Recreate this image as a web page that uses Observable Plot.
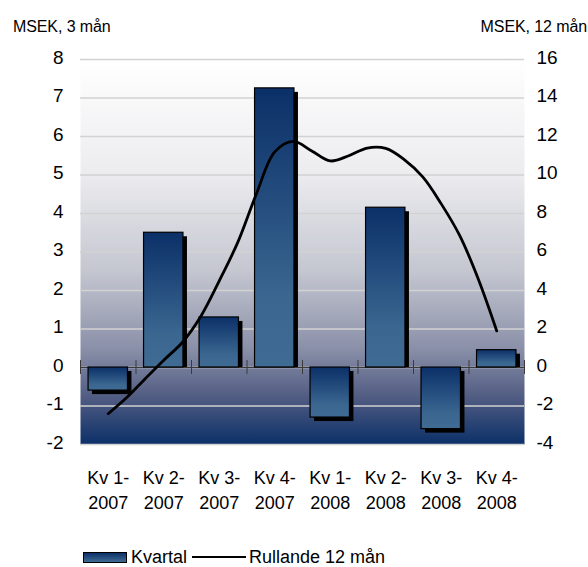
<!DOCTYPE html>
<html>
<head>
<meta charset="utf-8">
<script src="https://cdn.jsdelivr.net/npm/d3@7"></script>
<script src="https://cdn.jsdelivr.net/npm/@observablehq/plot@0.6"></script>
<style>
  html, body { margin: 0; padding: 0; background: #fff; }
  #wrap { position: relative; width: 588px; height: 567px; overflow: hidden; font-family: "Liberation Sans", Arial, sans-serif; color: #000; }
  #chart { position: absolute; left: 0; top: 0; }
  .title { position: absolute; top: 19px; font-size: 16px; line-height: 16px; letter-spacing: -0.1px; white-space: nowrap; }
  #legend { position: absolute; left: 0; top: 547px; width: 588px; height: 20px; font-size: 18px; line-height: 18px; white-space: nowrap; }
  #legend span { position: absolute; }
</style>
</head>
<body>
<div id="wrap">
  <div id="chart"></div>
  <div class="title" style="left:13px">MSEK, 3 mån</div>
  <div class="title" style="right:1px">MSEK, 12 mån</div>
  <div id="legend">
    <span style="left:83px;top:5px;width:42px;height:9px;border:1px solid #000;background:linear-gradient(#0b3068,#406b93)"></span>
    <span style="left:131px;top:1px">Kvartal</span>
    <span style="left:192px;top:9px;width:54px;height:2px;background:#000"></span>
    <span style="left:249px;top:1px">Rullande 12 mån</span>
  </div>
</div>
<script>
// Categories (quarters)
const quarters = ["Kv 1-\n2007", "Kv 2-\n2007", "Kv 3-\n2007", "Kv 4-\n2007", "Kv 1-\n2008", "Kv 2-\n2008", "Kv 3-\n2008", "Kv 4-\n2008"];
// Quarterly values, MSEK (left axis)
const kvartal = [-0.6, 3.5, 1.3, 7.25, -1.3, 4.15, -1.6, 0.45];
// Rolling 12-month values, MSEK (right axis), monthly from Kv1-2007 to Kv4-2008
const rullande = [-2.4, -1.56, -0.58, 0.38, 1.3, 2.65, 4.5, 6.5, 9.0, 11.2, 11.75, 11.25, 10.73, 11.0, 11.4, 11.38, 10.8, 9.9, 8.5, 6.85, 4.6, 1.9];
// Tick values
const leftTicks = [-2, -1, 0, 1, 2, 3, 4, 5, 6, 7, 8];
const rightTicks = [-4, -2, 0, 2, 4, 6, 8, 10, 12, 14, 16];

const bars = kvartal.map((v, i) => ({i, v}));
const linePts = rullande.map((v, k) => ({x: k / 3, v}));
const boundaries = d3.range(quarters.length + 1).map(i => i - 0.5);

function defs() {
  const d = d3.create("svg:defs");
  const bg = d.append("linearGradient").attr("id", "bgGrad").attr("x1", 0).attr("y1", 0).attr("x2", 0).attr("y2", 1);
  [[0, "#ffffff"], [0.3, "#ececef"], [0.55, "#c4c6d0"], [0.75, "#8a90a8"], [0.88, "#505b82"], [1, "#0b3068"]]
    .forEach(([o, c]) => bg.append("stop").attr("offset", o).attr("stop-color", c));
  const bar = d.append("linearGradient").attr("id", "barGrad").attr("x1", 0).attr("y1", 0).attr("x2", 0).attr("y2", 1);
  [[0, "#0b3068"], [0.75, "#3a6690"], [1, "#406b93"]]
    .forEach(([o, c]) => bar.append("stop").attr("offset", o).attr("stop-color", c));
  return d.node();
}

const half = 0.355;
const chart = Plot.plot({
  width: 588,
  height: 520,
  marginLeft: 80,
  marginRight: 64,
  marginTop: 59,
  marginBottom: 76,
  x: {domain: [-0.5, 7.5]},
  y: {domain: [-2, 8]},
  style: {fontFamily: "'Liberation Sans', Arial, sans-serif", fontSize: "18px", color: "#000", background: "transparent", overflow: "visible"},
  marks: [
    defs,
    Plot.frame({fill: "url(#bgGrad)", stroke: null}),
    Plot.ruleY(leftTicks, {stroke: "#d2d2d2", strokeWidth: 1.5}),
    Plot.ruleY([0], {stroke: "#3a3a3a", strokeWidth: 1}),
    Plot.ruleX(boundaries, {y1: -0.18, y2: 0.18, stroke: "#3a3a3a", strokeWidth: 1}),
    // shadows
    Plot.rect(bars, {filter: d => d.v > 0, x1: d => d.i - half, x2: d => d.i + half, y1: 0, y2: "v", fill: "#000", dx: 4, insetTop: 4}),
    Plot.rect(bars, {filter: d => d.v < 0, x1: d => d.i - half, x2: d => d.i + half, y1: 0, y2: "v", fill: "#000", dx: 4, dy: 4}),
    // bars
    Plot.rect(bars, {x1: d => d.i - half, x2: d => d.i + half, y1: 0, y2: "v", fill: "url(#barGrad)", stroke: "#000", strokeWidth: 1.2}),
    // rolling line (right axis = 2 x left axis)
    Plot.line(linePts, {x: "x", y: d => d.v / 2, curve: "catmull-rom", stroke: "#000", strokeWidth: 2.8}),
    Plot.axisY(leftTicks, {anchor: "left", tickSize: 0, tickPadding: 17, dy: -2, fontSize: 19, label: null, tickFormat: d => String(d)}),
    Plot.axisY(rightTicks.map(d => d / 2), {anchor: "right", tickSize: 0, tickPadding: 12, dy: -2, fontSize: 19, label: null, tickFormat: d => String(d * 2)}),
    Plot.axisX(d3.range(quarters.length), {anchor: "bottom", tickSize: 0, tickPadding: 21, lineHeight: 1.42, label: null, tickFormat: i => quarters[i]})
  ]
});
document.getElementById("chart").appendChild(chart);
</script>
</body>
</html>
